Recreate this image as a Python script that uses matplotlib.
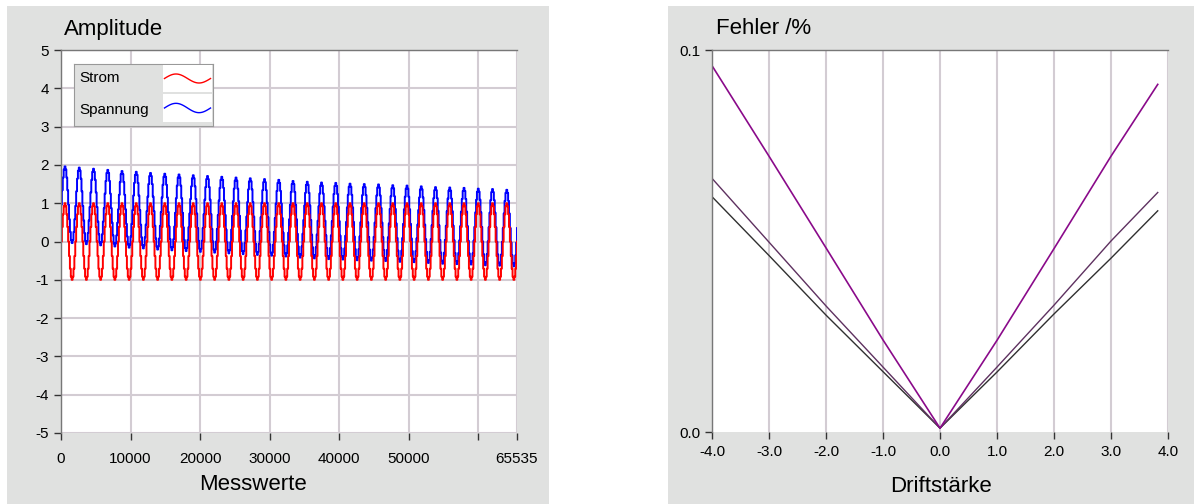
import numpy as np
import matplotlib
matplotlib.use('Agg')
import matplotlib.pyplot as plt
import matplotlib.patches as patches

plt.rcParams['font.family'] = ['Liberation Sans', 'DejaVu Sans']
plt.rcParams['axes.unicode_minus'] = False

# --- left chart: Strom / Spannung over Messwerte ---
n_samples = 65536
cycle_len = 2048
# levels of one staircase period (Strom)
strom_levels = [0.0, 0.38, 0.71, 0.92, 1.0, 0.92, 0.71, 0.38,
                0.0, -0.38, -0.71, -0.92, -1.0, -0.92, -0.71, -0.38]
# offset of the Spannung trace for each of the 32 periods (peak - 1)
spannung_offset = [0.96, 0.93, 0.90, 0.87, 0.84, 0.82, 0.79, 0.77,
                   0.75, 0.73, 0.71, 0.69, 0.67, 0.65, 0.63, 0.61,
                   0.58, 0.56, 0.54, 0.53, 0.51, 0.50, 0.49, 0.47,
                   0.46, 0.44, 0.42, 0.41, 0.40, 0.38, 0.37, 0.35]
left_xticks = [0, 10000, 20000, 30000, 40000, 50000, 60000, 65535]
left_xlabels = ['0', '10000', '20000', '30000', '40000', '50000', '', '65535']
left_yticks = [-5, -4, -3, -2, -1, 0, 1, 2, 3, 4, 5]

# --- right chart: Fehler over Driftstaerke ---
drift = [-4.0, -3.0, -2.0, -1.0, 0.0, 1.0, 2.0, 3.0, 3.82]
fehler_a = [0.0959, 0.0722, 0.0482, 0.0241, 0.001, 0.0240, 0.0480, 0.0722, 0.0910]
fehler_b = [0.0664, 0.0497, 0.0330, 0.0170, 0.001, 0.0170, 0.0332, 0.0500, 0.0627]
fehler_c = [0.0616, 0.0462, 0.0306, 0.0158, 0.001, 0.0157, 0.0309, 0.0455, 0.0579]
right_xticks = [-4, -3, -2, -1, 0, 1, 2, 3, 4]

W, H = 1194, 504
PANEL = '#e0e1e0'
GRID = '#d3ccd3'

fig = plt.figure(figsize=(W / 100, H / 100), dpi=100)
fig.patch.set_facecolor('white')


def px(x0, y0, x1, y1):
    # image pixel box -> figure fraction rect
    return [x0 / W, (H - y1) / H, (x1 - x0) / W, (y1 - y0) / H]


for box in [(7, 6, 549, 504), (668, 6, 1194, 504)]:
    r = px(*box)
    fig.add_artist(patches.Rectangle((r[0], r[1]), r[2], r[3], transform=fig.transFigure,
                                     facecolor=PANEL, edgecolor='none', zorder=0))


def style_axes(ax):
    for s in ['right', 'bottom']:
        ax.spines[s].set_visible(False)
    for s in ['left', 'top']:
        ax.spines[s].set_color('#777777')
        ax.spines[s].set_linewidth(1.0)
    ax.tick_params(direction='out', length=5, width=1, color='#333333', labelsize=11)
    ax.set_axisbelow(True)


# left
ax1 = fig.add_axes(px(61, 50, 517, 433))
style_axes(ax1)
steps = len(strom_levels)
step_len = cycle_len // steps
t = np.arange(0, n_samples, step_len)
strom = np.tile(strom_levels, n_samples // cycle_len)
spannung = strom + np.repeat(spannung_offset, steps)
t = np.append(t, n_samples - 1)
strom = np.append(strom, 0.0)
spannung = np.append(spannung, spannung_offset[-1])
ax1.plot(t, spannung, color='#0000ff', lw=1.4, drawstyle='steps-post')
ax1.plot(t, strom, color='#ff0000', lw=1.4, drawstyle='steps-post')
ax1.set_xlim(0, 65535)
ax1.set_ylim(-5, 5)
ax1.set_xticks(left_xticks)
ax1.set_xticklabels(left_xlabels)
ax1.set_yticks(left_yticks)
ax1.set_yticklabels([str(v) for v in left_yticks])
ax1.grid(True, color=GRID, lw=1.5)
ax1.tick_params(axis='x', pad=9)
fig.text(64 / W, 1 - 29 / H, 'Amplitude', fontsize=16, va='center', ha='left')
fig.text(253 / W, 1 - 484 / H, 'Messwerte', fontsize=16, va='center', ha='center')

# legend box
lg = fig.add_axes(px(74, 64, 213, 126))
lg.set_xlim(0, 1)
lg.set_ylim(0, 1)
lg.set_xticks([])
lg.set_yticks([])
lg.set_facecolor(PANEL)
for s in lg.spines.values():
    s.set_color('#999999')
lg.text(5 / 139, 0.78, 'Strom', fontsize=11, va='center')
lg.text(5 / 139, 0.26, 'Spannung', fontsize=11, va='center')
wave = np.linspace(0, 2 * np.pi, 50)
for col, y0, y1 in [('#ff0000', 65, 92), ('#0000ff', 94, 122)]:
    sb = fig.add_axes(px(163, y0, 212, y1))
    sb.set_xticks([])
    sb.set_yticks([])
    for s in sb.spines.values():
        s.set_visible(False)
    sb.plot(wave, np.sin(wave), color=col, lw=1)
    sb.set_ylim(-3, 3)
    sb.set_xlim(-0.2, 2 * np.pi + 0.2)

# right
ax2 = fig.add_axes(px(712, 50, 1168, 432))
style_axes(ax2)
ax2.plot(drift, fehler_c, color='#303030', lw=1)
ax2.plot(drift, fehler_b, color='#5e3160', lw=1)
ax2.plot(drift, fehler_a, color='#8a0a8a', lw=1.2)
ax2.set_xlim(-4, 4)
ax2.set_ylim(0, 0.1)
ax2.set_xticks(right_xticks)
ax2.set_xticklabels(['%.1f' % v for v in right_xticks])
ax2.set_yticks([0.0, 0.1])
ax2.set_yticklabels(['0.0', '0.1'])
ax2.grid(True, axis='x', color=GRID, lw=1.5)
ax2.tick_params(axis='x', pad=4)
fig.text(716 / W, 1 - 29 / H, 'Fehler /%', fontsize=16, va='center', ha='left')
fig.text(941 / W, 1 - 487 / H, 'Driftstärke', fontsize=16, va='center', ha='center')

fig.savefig('out.png', dpi=100)
